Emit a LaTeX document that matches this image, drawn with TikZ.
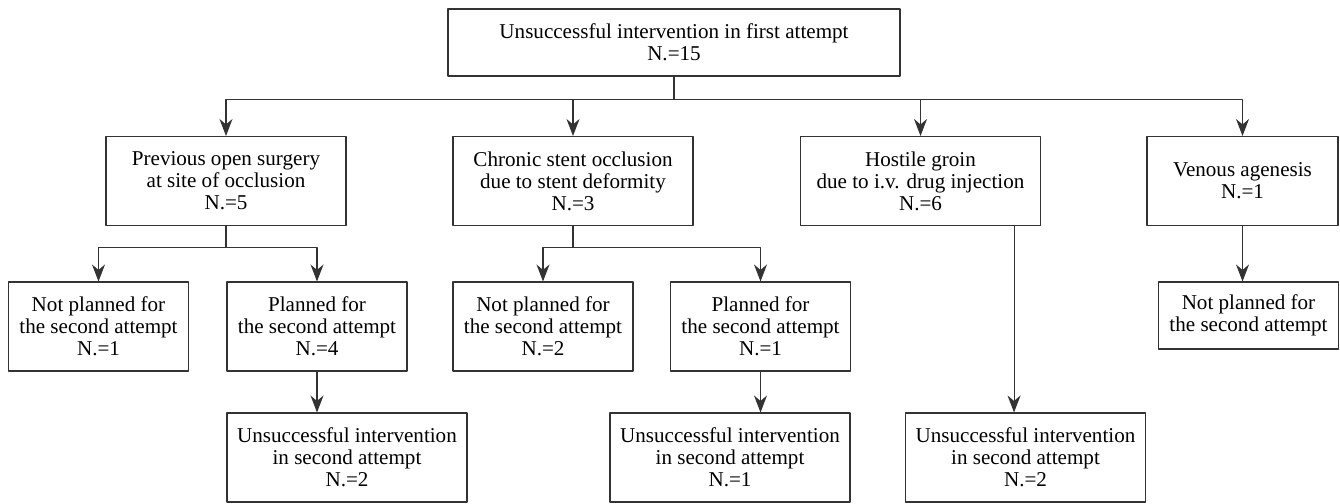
\documentclass[tikz,border=0pt]{standalone}
\usepackage{fontspec}
\setmainfont{Liberation Serif}
\usetikzlibrary{arrows.meta}
\begin{document}
\begin{tikzpicture}[font=\fontsize{12}{12.6}\selectfont, line join=round,
  >={Stealth[length=3.4mm,width=2.6mm,inset=1.1mm]},
  box/.style={draw=black!80, line width=0.6pt, align=center, inner sep=0pt,
    minimum height=1.78cm},
  wide/.style={box, minimum width=4.8cm},
  narrow/.style={box, minimum width=3.6cm},
  link/.style={draw=black!80, line width=0.6pt}]
  \useasboundingbox (0,0) rectangle (26.8,-10.08);
  \def\ha{-0.46} \def\hb{-0.42}
  % first attempt
  \node[box, minimum width=9.04cm, minimum height=1.34cm] (first) at (13.48,-0.85)
    {Unsuccessful intervention in first attempt\\N.=15};
  % causes
  \node[wide] (surg) at (4.52,-3.62) {Previous open surgery\\at site of occlusion\\N.=5};
  \node[wide] (stent) at (11.46,-3.62) {Chronic stent occlusion\\due to stent deformity\\N.=3};
  \node[wide] (groin) at (18.41,-3.62) {Hostile groin\\due to i.v. drug injection\\N.=6};
  \node[box, minimum width=3.82cm] (agen) at (24.85,-3.62) {Venous agenesis\\N.=1};
  % second attempt planning
  \node[narrow] (surgno) at (1.97,-6.53) {Not planned for\\the second attempt\\N.=1};
  \node[narrow] (surgyes) at (6.34,-6.53) {Planned for\\the second attempt\\N.=4};
  \node[narrow] (stentno) at (10.86,-6.53) {Not planned for\\the second attempt\\N.=2};
  \node[narrow] (stentyes) at (15.21,-6.53) {Planned for\\the second attempt\\N.=1};
  \node[narrow, minimum height=1.34cm] (agenno) at (24.97,-6.31) {Not planned for\\the second attempt};
  % second attempt result
  \node[wide] (surgfail) at (6.94,-9.15) {Unsuccessful intervention\\in second attempt\\N.=2};
  \node[wide] (stentfail) at (14.6,-9.15) {Unsuccessful intervention\\in second attempt\\N.=1};
  \node[wide] (groinfail) at (20.51,-9.15) {Unsuccessful intervention\\in second attempt\\N.=2};
  % connectors
  \draw[link] (first.south) -- ++(0,\ha);
  \foreach \t in {surg,stent,groin,agen}
    \draw[link,->] (first.south) ++(0,\ha) -| (\t.north);
  \foreach \s/\t in {surg/surgno,surg/surgyes,stent/stentno,stent/stentyes}
    \draw[link,->] (\s.south) ++(0,\hb) -| (\t.north);
  \draw[link] (surg.south) -- ++(0,\hb);
  \draw[link] (stent.south) -- ++(0,\hb);
  \draw[link,->] (surgyes.south) -- (surgyes.south |- surgfail.north);
  \draw[link,->] (stentyes.south) -- (stentyes.south |- stentfail.north);
  \draw[link,->] ([xshift=-0.54cm]groin.south east) -- ([xshift=-0.54cm]groin.south east |- groinfail.north);
  \draw[link,->] (agen.south) -- (agen.south |- agenno.north);
\end{tikzpicture}
\end{document}
